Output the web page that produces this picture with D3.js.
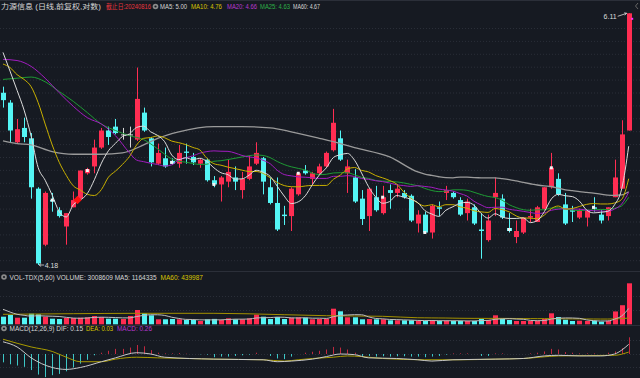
<!DOCTYPE html>
<html><head><meta charset="utf-8">
<script src="https://cdn.jsdelivr.net/npm/d3@7"></script>
<style>html,body{margin:0;padding:0;background:#161a22;}svg{display:block;}</style>
</head><body>
<svg id="chart" width="640" height="378"></svg>
<script>
// ---------- DATA ----------
const candleNo = d3.range(1, 91);
const openP = [5.42,5.34,5.03,5.14,5.06,4.69,4.31,4.61,4.54,4.43, 4.56,4.62,4.80,4.85,4.99,5.12,5.15,5.09,5.09,5.05,
  5.26,5.06,4.87,4.91,4.89,4.87,4.96,4.92,4.87,4.90, 4.75,4.72,4.74,4.77,4.68,4.76,4.87,4.91,4.70,4.59,
  4.51,4.50,4.65,4.82,4.76,4.80,4.85,4.97,5.06,4.80, 4.77,4.62,4.50,4.63,4.52,4.68,4.66,4.66,4.64,4.45,
  4.51,4.39,4.56,4.66,4.66,4.61,4.52,4.56,4.41,4.34, 4.63,4.62,4.42,4.36,4.39,4.49,4.46,4.55,4.70,4.76,
  4.58,4.54,4.49,4.49,4.56,4.51,4.50,4.63,4.69,5.12];
const highP = [5.47,5.36,5.21,5.22,5.10,4.70,4.67,4.66,4.56,4.52, 4.67,4.82,4.84,5.05,5.14,5.15,5.21,5.14,5.15,5.63,
  5.30,5.07,5.02,4.99,4.91,5.01,5.02,4.95,4.91,4.91, 4.78,4.78,4.90,4.85,4.81,4.93,5.03,4.92,4.77,4.77,
  4.57,4.70,4.81,4.86,4.81,4.87,4.96,5.29,5.12,4.90, 4.83,4.68,4.69,4.71,4.71,4.72,4.72,4.68,4.65,4.54,
  4.53,4.58,4.60,4.71,4.67,4.63,4.62,4.58,4.52,4.51, 4.77,4.65,4.52,4.47,4.49,4.55,4.57,4.70,4.95,4.80,
  4.66,4.57,4.55,4.54,4.63,4.54,4.56,4.90,5.20,6.11];
const lowP = [5.30,5.03,5.02,5.03,4.62,4.18,4.30,4.53,4.49,4.31, 4.56,4.61,4.79,4.80,4.98,5.01,5.09,5.05,4.99,5.04,
  5.11,4.85,4.86,4.84,4.86,4.84,4.87,4.86,4.84,4.74, 4.70,4.60,4.70,4.68,4.62,4.75,4.86,4.65,4.58,4.40,
  4.44,4.40,4.64,4.79,4.72,4.79,4.84,4.96,4.89,4.66, 4.59,4.44,4.40,4.53,4.51,4.55,4.63,4.62,4.46,4.39,
  4.38,4.35,4.50,4.61,4.62,4.50,4.47,4.44,4.22,4.33, 4.50,4.48,4.39,4.32,4.38,4.46,4.46,4.54,4.69,4.64,
  4.44,4.46,4.48,4.43,4.53,4.45,4.47,4.63,4.69,5.12];
const closeP = [5.36,5.12,5.13,5.07,4.70,4.19,4.66,4.60,4.50,4.52, 4.61,4.82,4.83,4.99,5.12,5.07,5.10,5.09,5.09,5.37,
  5.12,4.88,4.95,4.85,4.87,4.95,4.95,4.88,4.90,4.75, 4.72,4.77,4.81,4.74,4.76,4.85,4.95,4.74,4.59,4.41,
  4.50,4.69,4.80,4.80,4.80,4.85,4.95,5.18,4.90,4.85, 4.60,4.48,4.69,4.54,4.63,4.66,4.69,4.63,4.47,4.51,
  4.39,4.57,4.55,4.68,4.63,4.51,4.60,4.45,4.40,4.47, 4.66,4.49,4.40,4.40,4.49,4.50,4.56,4.70,4.84,4.65,
  4.45,4.53,4.54,4.54,4.55,4.47,4.56,4.77,5.09,6.11];
const volume = [558000,682000,484000,484000,778000,734000,558000,411000,389000,462000,
  462000,484000,514000,609000,536000,411000,411000,389000,609000,1049000,
  807000,660000,367000,367000,389000,367000,316000,316000,242000,367000,
  396000,316000,440000,367000,367000,440000,704000,558000,389000,536000,
  389000,484000,514000,484000,367000,389000,411000,1145000,954000,514000,
  514000,367000,389000,367000,367000,294000,294000,294000,294000,242000,
  242000,316000,242000,264000,242000,242000,242000,242000,389000,316000,
  660000,389000,316000,242000,242000,242000,264000,389000,807000,536000,
  338000,242000,264000,242000,264000,191000,264000,945000,1400000,3008609];
const ma5Early = [5.76,5.60,5.44,5.28];
const ma10Early = [5.66,5.63,5.57,5.53,5.47,5.34,5.17,5.01,4.88];
const ma20Early = [[0,5.70],[2,5.69],[4,5.64],[6,5.54],[8,5.42],[10,5.31],[12,5.22],[14,5.17],[16,5.08],[18,4.95]];
const ma25Early = [[0,5.53],[2,5.54],[4,5.55],[6,5.51],[8,5.43],[10,5.35],[12,5.26],[14,5.17],[16,5.12],[18,5.08],[20,5.05],[22,4.98],[23,4.94]];
const ma60Early = [[0,5.04],[2,5.02],[4,5.01],[7,4.96],[10,4.94],[14,4.94],[17,4.95],[20,5.01],[22,5.06],[25,5.11],[30,5.15],[34,5.15],[38,5.14],[41,5.11],[45,5.06],[48,5.02],[50,4.99],[55,4.92]];
const volMa5Early = [1100000,900000,734000,660000];
const volMa60Early = [[0,734000],[10,778000],[19,807000],[30,807000],[40,704000],[46,631000],[54,587000]];
// MACD panel
const macdBar = [-0.13,-0.16,-0.18,-0.20,-0.25,-0.32,-0.36,-0.33,-0.31,-0.27,
  -0.21,-0.15,-0.09,-0.02,0.02,0.05,0.08,0.08,0.10,0.14,
  0.12,0.06,0.02,0.01,0.01,0.015,0.005,0,-0.005,-0.01,
  -0.05,-0.04,-0.04,-0.03,-0.02,-0.01,0.02,0,-0.03,-0.07,
  -0.08,-0.04,0,0.02,0.035,0.05,0.07,0.11,0.10,0.07,
  0.02,-0.03,-0.03,-0.04,-0.035,-0.04,-0.035,-0.035,-0.04,-0.04,
  -0.05,-0.04,-0.03,-0.01,0.01,0.01,0.01,0,-0.03,-0.03,
  0.01,0.01,0,0,0,0.01,0.02,0.04,0.08,0.07,
  0.03,0.02,0.01,0.01,0.01,0,0.02,0.04,0.09,0.26];
const difRead = [[0,0.19],[2,0.11],[4,-0.06],[7,-0.21],[9,-0.24],[11,-0.21],[14,-0.12],[16,-0.06],[19,0.02],[21,0.0],[23,-0.05],[30,-0.08],[37,-0.09],[39,-0.12],[41,-0.11],[44,-0.08],[46,-0.04],[48,0.0],[50,-0.01],[52,-0.06],[56,-0.07],[59,-0.09],[61,-0.11],[64,-0.09],[70,-0.08],[74,-0.07],[77,-0.03],[79,-0.02],[82,-0.03],[85,-0.03],[87,0.0],[88,0.06],[89,0.15]];
const deaRead = [[0,0.23],[4,0.11],[7,0.04],[9,-0.05],[11,-0.12],[14,-0.12],[16,-0.08],[19,-0.05],[22,-0.06],[30,-0.08],[37,-0.09],[40,-0.11],[42,-0.09],[44,-0.07],[47,-0.05],[49,-0.03],[51,-0.04],[54,-0.07],[60,-0.09],[65,-0.09],[70,-0.08],[74,-0.07],[79,-0.03],[87,-0.02],[89,0.03]];
// marks on the price panel: [candle index, price]
const dotMarks = [[7,4.61],[12,4.82],[24,4.88],[30,4.72],[42,4.80],[54,4.63],[60,4.39],[72,4.41],[78,4.84],[84,4.56]];
const crossMarks = [[10.6,4.61]];
const lowMark = [5, 4.18];
const highMark = [89, 6.11];
// header texts
const titleText = "力源信息 (日线,前复权,对数)";
const dateText = "截止日:20240816";
const maLabels = ["MA5: 5.00","MA10: 4.76","MA20: 4.66","MA25: 4.63","MA60: 4.67"];
const volLabels = ["VOL-TDX(5,60) VOLUME: 3008609 MA5: 1164335","MA60: 439987"];
const macdLabels = ["MACD(12,26,9) DIF: 0.15","DEA: 0.03","MACD: 0.26"];

// ---------- DRAWING ----------
const RED = "#ff2d52", CYAN = "#54f5f5", FLAT = "#d8d8d8";
const C_MA5 = "#dcdcdc", C_MA10 = "#c9b000", C_MA20 = "#a21cc0", C_MA25 = "#1e9a34", C_MA60 = "#9a9a9a";
const FONT = "'Liberation Sans','Noto Sans CJK SC',sans-serif";
const svg = d3.select("#chart");
const n = closeP.length;
const x = d3.scaleLinear().domain([0, n - 1]).range([3, 628.7]);
const y = d3.scaleLog().domain([4.18, 6.11]).range([265, 13.3]);
const yv = d3.scaleLinear().domain([0, 3008609]).range([324.3, 283.3]);
const ym = d3.scaleLinear().domain([0, 0.26]).range([354, 337.3]);
const colorOf = i => closeP[i] > openP[i] ? RED : closeP[i] < openP[i] ? CYAN : FLAT;
const volColor = i => closeP[i] >= openP[i] ? RED : CYAN;

svg.append("rect").attr("width", 640).attr("height", 378).attr("fill", "#161a22");

// frame lines
const frame = svg.append("g").attr("stroke", "#2b2f39").attr("stroke-width", 1);
[0.5, 271.5, 325.5].forEach(v => frame.append("line").attr("x1", 0).attr("x2", 640).attr("y1", v).attr("y2", v));

// dotted grid
const grid = svg.append("g").attr("stroke", "#2a2e38").attr("stroke-dasharray", "1,2");
d3.range(19).forEach(k => { const gy = 28 + 12.9 * k + 0.5;
  grid.append("line").attr("x1", 0).attr("x2", 640).attr("y1", gy).attr("y2", gy); });
[296.5, 310.5, 340.5, 354.5, 367.5].forEach(gy => grid.append("line").attr("x1", 0).attr("x2", 640).attr("y1", gy).attr("y2", gy));

// moving averages
function movingAvg(vals, per, early) {
  const pts = early.slice();
  for (let i = per - 1; i < vals.length; i++) pts.push([i, d3.mean(vals.slice(i - per + 1, i + 1))]);
  return pts;
}
const toPairs = arr => arr.map((v, i) => [i, v]);
const maSeries = [
  [movingAvg(closeP, 60, ma60Early), C_MA60, 1.3],
  [movingAvg(closeP, 25, ma25Early), C_MA25, 1],
  [movingAvg(closeP, 20, ma20Early), C_MA20, 1],
  [movingAvg(closeP, 10, toPairs(ma10Early)), C_MA10, 1],
  [movingAvg(closeP, 5, toPairs(ma5Early)), C_MA5, 1]
];

// candles
const cg = svg.append("g");
candleNo.forEach((_, i) => {
  const col = colorOf(i);
  const cx = Math.round(x(i)) + 0.5;
  cg.append("line").attr("x1", cx).attr("x2", cx).attr("y1", y(highP[i])).attr("y2", y(lowP[i]))
    .attr("stroke", col).attr("stroke-width", 1);
  const top = y(Math.max(openP[i], closeP[i])), bot = y(Math.min(openP[i], closeP[i]));
  cg.append("rect").attr("x", cx - 2.5).attr("width", 5).attr("y", top).attr("height", Math.max(1, bot - top))
    .attr("fill", col);
});

const priceLine = d3.line().x(d => x(d[0])).y(d => y(d[1])).curve(d3.curveMonotoneX);
maSeries.forEach(([pts, col, w]) => svg.append("path").attr("d", priceLine(pts)).attr("fill", "none")
  .attr("stroke", col).attr("stroke-width", w));

// marks
dotMarks.forEach(([i, v]) => svg.append("rect").attr("x", x(i) - 1.5).attr("y", y(v) - 1.5).attr("width", 3).attr("height", 3).attr("fill", "#f4f4f4"));
crossMarks.forEach(([i, v]) => svg.append("path").attr("transform", `translate(${x(i)},${y(v)}) rotate(45)`)
  .attr("d", "M-3,-3H3V3H-3Z").attr("fill", "#ff1010"));
{
  const lx = x(lowMark[0]), ly = y(lowMark[1]);
  svg.append("path").attr("d", `M${lx + 1},${ly}H${lx + 6}M${lx + 1},${ly}l2,-1.5M${lx + 1},${ly}l2,1.5`)
    .attr("stroke", "#dddddd").attr("fill", "none").attr("stroke-width", 0.8);
  svg.append("text").attr("x", lx + 6.5).attr("y", ly + 2.5).text(lowMark[1].toFixed(2))
    .attr("fill", "#dddddd").attr("font-size", 7).attr("font-family", FONT);
  const hx = x(highMark[0]), hy = y(highMark[1]);
  svg.append("path").attr("d", `M${hx - 11},${hy + 3}L${hx - 2},${hy}M${hx - 2},${hy}l-2.5,-0.5M${hx - 2},${hy}l-2,1.8`)
    .attr("stroke", "#dddddd").attr("fill", "none").attr("stroke-width", 0.8);
  svg.append("text").attr("x", hx - 12).attr("y", hy + 5.5).attr("text-anchor", "end").text(highMark[1].toFixed(2))
    .attr("fill", "#dddddd").attr("font-size", 7).attr("font-family", FONT);
  svg.append("rect").attr("x", hx + 2.5).attr("y", hy + 4.5).attr("width", 2).attr("height", 2).attr("fill", "#ff30ff");
}

// volume panel
const vg = svg.append("g");
candleNo.forEach((_, i) => {
  vg.append("rect").attr("x", Math.round(x(i)) - 2).attr("width", 5).attr("y", yv(volume[i]))
    .attr("height", yv(0) - yv(volume[i])).attr("fill", volColor(i));
});
const volLine = d3.line().x(d => x(d[0])).y(d => yv(d[1])).curve(d3.curveMonotoneX);
svg.append("path").attr("d", volLine(movingAvg(volume, 60, volMa60Early))).attr("fill", "none").attr("stroke", "#a39000").attr("stroke-width", 1);
svg.append("path").attr("d", volLine(movingAvg(volume, 5, toPairs(volMa5Early)))).attr("fill", "none").attr("stroke", "#bdbdbd").attr("stroke-width", 1);

// MACD panel
const mg = svg.append("g");
macdBar.forEach((v, i) => {
  const cx = Math.round(x(i)) + 0.5;
  mg.append("line").attr("x1", cx).attr("x2", cx).attr("y1", ym(0)).attr("y2", ym(v))
    .attr("stroke", v >= 0 ? "#c0283f" : "#3cc6c6").attr("stroke-width", 1);
});
const macdLine = d3.line().x(d => x(d[0])).y(d => ym(d[1])).curve(d3.curveMonotoneX);
svg.append("path").attr("d", macdLine(deaRead)).attr("fill", "none").attr("stroke", "#a89a00").attr("stroke-width", 1);
svg.append("path").attr("d", macdLine(difRead)).attr("fill", "none").attr("stroke", "#c8c8c8").attr("stroke-width", 1);

// headers (each segment fitted to the span it takes in the reference)
function txt(tx, ty, s, col, w, fs) {
  svg.append("text").attr("x", tx).attr("y", ty).text(s).attr("fill", col)
    .attr("font-size", fs || 7).attr("font-family", FONT)
    .attr("textLength", w).attr("lengthAdjust", "spacingAndGlyphs");
}
function icon(cx, cy) {
  svg.append("circle").attr("cx", cx).attr("cy", cy).attr("r", 2.8).attr("fill", "#8a8a8a");
  svg.append("circle").attr("cx", cx).attr("cy", cy).attr("r", 1.1).attr("fill", "#161a22");
}
txt(1, 9, titleText, "#d6d6d6", 100);
txt(106, 9, dateText, "#e8353d", 45, 6.8);
icon(155.5, 6.5);
const maCols = ["#d6d6d6", "#d8c400", "#b838d0", "#2eb048", "#d6d6d6"];
const maX = [160, 191, 227, 260, 293];
const maW = [27, 31, 30, 30, 27];
maLabels.forEach((s, k) => txt(maX[k], 9, s, maCols[k], maW[k], 6.5));
svg.append("path").attr("d", "M638,3L635.5,6L638,9").attr("stroke", "#666").attr("fill", "none");
icon(4, 277);
txt(9.5, 279.5, volLabels[0], "#d6d6d6", 147, 6.3);
txt(160.5, 279.5, volLabels[1], "#d8c400", 42.5, 6.5);
icon(4, 328.5);
txt(9.5, 331, macdLabels[0], "#d6d6d6", 73.5, 6.5);
txt(86, 331, macdLabels[1], "#d8c400", 27, 6.5);
txt(117, 331, macdLabels[2], "#b838d0", 35, 6.5);
</script>
</body></html>
